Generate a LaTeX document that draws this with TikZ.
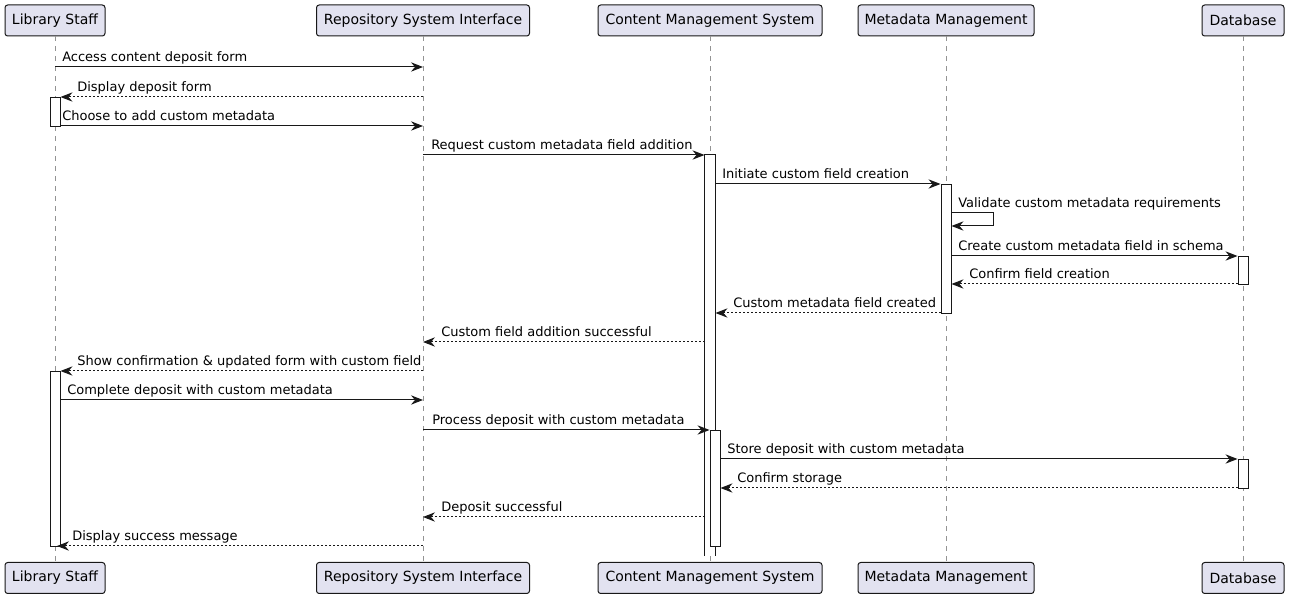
\documentclass[tikz,border=0pt]{standalone}
\usepackage{fontspec}
\setmainfont{DejaVu Sans}
\usetikzlibrary{arrows.meta}
\definecolor{pfill}{HTML}{E2E2F0}
\definecolor{ink}{HTML}{181818}
\tikzset{
  part/.style={draw=ink, fill=pfill, rounded corners=2pt, line width=0.75pt, minimum height=23.25pt, inner xsep=0pt, font=\fontsize{10.5pt}{12pt}\selectfont, text=black},
  life/.style={draw=gray!85, line width=0.75pt, dash pattern=on 3.75pt off 3.75pt},
  act/.style={draw=ink, fill=white, line width=0.75pt, minimum width=7.5pt, inner sep=0pt, anchor=north},
  sync/.style={draw=ink, line width=0.75pt, -{Stealth[length=9pt,width=7pt,inset=3pt]}},
  ret/.style={sync, dash pattern=on 1.5pt off 1.5pt},
  lbl/.style={anchor=base west, inner sep=0pt, font=\fontsize{9.75pt}{12pt}\selectfont, text=black}
}
\begin{document}
\begin{tikzpicture}[x=0.75pt, y=-0.75pt]
\useasboundingbox (0,0) rectangle (1290,598);
% participants
\node[part, minimum width=75pt]     (lsT) at (55,20.5)   {Library Staff};
\node[part, minimum width=159.75pt] (riT) at (423,20.5)  {Repository System Interface};
\node[part, minimum width=168pt]    (cmT) at (710,20.5)  {Content Management System};
\node[part, minimum width=132pt]    (mmT) at (946,20.5)  {Metadata Management};
\node[part, minimum width=61.5pt]   (dbT) at (1243,20.5) {Database};
\node[part, minimum width=75pt]     (lsB) at (55,578)    {Library Staff};
\node[part, minimum width=159.75pt] (riB) at (423,578)   {Repository System Interface};
\node[part, minimum width=168pt]    (cmB) at (710,578)   {Content Management System};
\node[part, minimum width=132pt]    (mmB) at (946,578)   {Metadata Management};
\node[part, minimum width=61.5pt]   (dbB) at (1243,578)  {Database};
% lifelines
\draw[life] (lsT.south) -- (lsB.north);
\draw[life] (riT.south) -- (riB.north);
\draw[life] (cmT.south) -- (cmB.north);
\draw[life] (mmT.south) -- (mmB.north);
\draw[life] (dbT.south) -- (dbB.north);
% activations
\node[act, minimum height=21.75pt]  (lsA1) at (55,97)   {};
\node[act, minimum height=131.25pt] (lsA2) at (55,371)  {};
\node[act, draw=none, minimum height=300pt] (cmA1) at (710,155) {};
\draw[ink, line width=0.75pt] (cmA1.south west) -- (cmA1.north west) -- (cmA1.north east) -- (cmA1.south east);
\node[act, minimum height=87pt]     (cmA2) at (715,430) {};
\node[act, minimum height=96.75pt]  (mmA1) at (946,184) {};
\node[act, minimum height=21pt]     (dbA1) at (1243,256) {};
\node[act, minimum height=21.75pt]  (dbA2) at (1243,459) {};
% messages
\draw[sync] (lsT |- 0,67) -- (riT |- 0,67);
\node[lbl] (l1) at (62,62) {Access content deposit form};
\draw[ret] (riT |- 0,97) -- (lsA1.east |- 0,97);
\node[lbl] (l2) at (77,92) {Display deposit form};
\draw[sync] (lsA1.east |- 0,126) -- (riT |- 0,126);
\node[lbl] (l3) at (62,121) {Choose to add custom metadata};
\draw[sync] (riT |- 0,155) -- (cmA1.west |- 0,155);
\node[lbl] (l4) at (431,150) {Request custom metadata field addition};
\draw[sync] (cmA1.east |- 0,184) -- (mmA1.west |- 0,184);
\node[lbl] (l5) at (722,179) {Initiate custom field creation};
\draw[sync] (mmA1.east |- 0,213) -- ++(42,0) -- ++(0,13) -- (mmA1.east |- 0,226);
\node[lbl] (l6) at (958,208) {Validate custom metadata requirements};
\draw[sync] (mmA1.east |- 0,256) -- (dbA1.west |- 0,256);
\node[lbl] (l7) at (958,251) {Create custom metadata field in schema};
\draw[ret] (dbA1.west |- 0,284) -- (mmA1.east |- 0,284);
\node[lbl] (l8) at (969,279) {Confirm field creation};
\draw[ret] (mmA1.west |- 0,313) -- (cmA1.east |- 0,313);
\node[lbl] (l9) at (733,308) {Custom metadata field created};
\draw[ret] (cmA1.west |- 0,342) -- (riT |- 0,342);
\node[lbl] (l10) at (441,337) {Custom field addition successful};
\draw[ret] (riT |- 0,371) -- (lsA2.east |- 0,371);
\node[lbl] (l11) at (77,366) {Show confirmation \& updated form with custom field};
\draw[sync] (lsA2.east |- 0,400) -- (riT |- 0,400);
\node[lbl] (l12) at (67,395) {Complete deposit with custom metadata};
\draw[sync] (riT |- 0,430) -- (cmA2.west |- 0,430);
\node[lbl] (l13) at (432,425) {Process deposit with custom metadata};
\draw[sync] (cmA2.east |- 0,459) -- (dbA2.west |- 0,459);
\node[lbl] (l14) at (727,454) {Store deposit with custom metadata};
\draw[ret] (dbA2.west |- 0,488) -- (cmA2.east |- 0,488);
\node[lbl] (l15) at (737,483) {Confirm storage};
\draw[ret] (cmA1.west |- 0,517) -- (riT |- 0,517);
\node[lbl] (l16) at (441,512) {Deposit successful};
\draw[ret, shorten >=1.5pt] (riT |- 0,546) -- (lsT |- 0,546);
\node[lbl] (l17) at (72,541) {Display success message};
\end{tikzpicture}
\end{document}
